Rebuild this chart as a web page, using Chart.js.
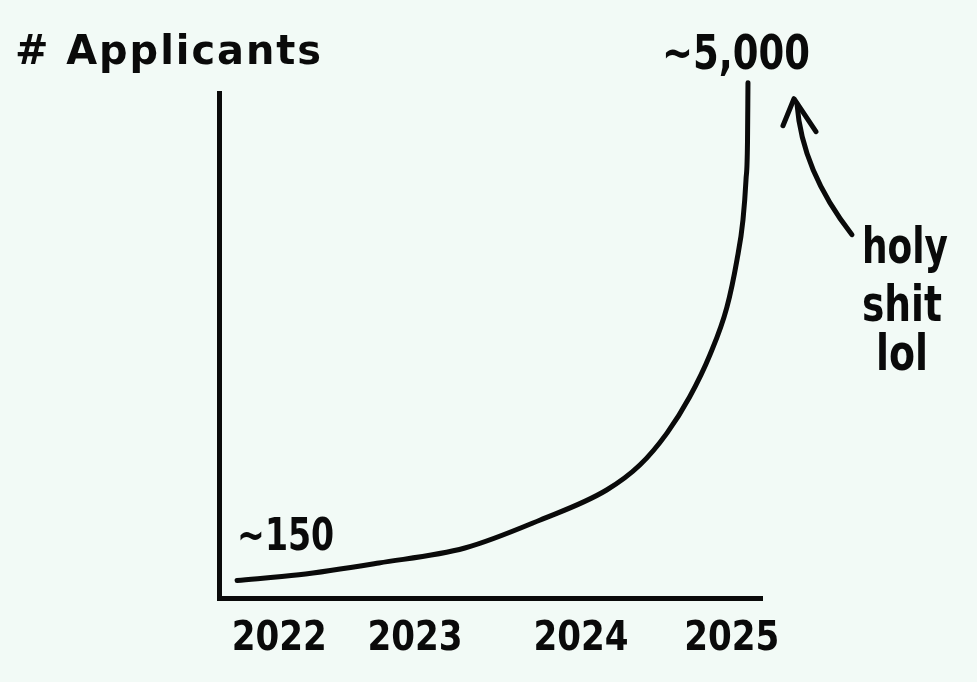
<!DOCTYPE html>
<html>
<head>
<meta charset="utf-8">
<script src="https://cdn.jsdelivr.net/npm/chart.js@4/dist/chart.umd.min.js"></script>
<style>
  html, body { margin: 0; padding: 0; background: #f2faf6; }
  #wrap { width: 977px; height: 682px; }
</style>
</head>
<body>
<div id="wrap"><canvas id="applicantsChart" width="977" height="682"></canvas></div>
<script>
// Applicants over time
const years = [2021.72, 2022.13, 2022.66, 2023.23, 2023.73, 2024.17, 2024.39, 2024.57,
               2024.72, 2024.855, 2024.967, 2025.034, 2025.074, 2025.094, 2025.104, 2025.107];
const applicants = [170, 225, 340, 485, 757, 1048, 1290, 1600,
                    1950, 2360, 2820, 3280, 3670, 4060, 4440, 5000];

// Hand-written year labels and where they sit on the x axis
const tickLabels = ['2022', '2023', '2024', '2025'];
const tickPositions = [2022, 2022.9, 2024, 2025];

const axisTitle = '# Applicants';
const startLabel = '~150';
const peakLabel = '~5,000';
const remarkLines = ['holy', 'shit', 'lol'];

const ink = '#0a0a0a';
const hand = '"DejaVu Sans", "Liberation Sans", sans-serif';

function write(ctx, text, x, y, size, maxWidth, align, spacing) {
    ctx.font = `bold ${size}px ${hand}`;
    ctx.letterSpacing = spacing || '0px';
    ctx.textAlign = align || 'left';
    ctx.textBaseline = 'alphabetic';
    ctx.fillText(text, x, y, maxWidth);
}

// Draws the hand-written texts and the arrow
const sketchNotes = {
    id: 'sketchNotes',
    afterDraw(chart) {
        const ctx = chart.ctx;
        const xs = chart.scales.x;
        const ys = chart.scales.y;
        ctx.save();
        ctx.fillStyle = ink;
        ctx.strokeStyle = ink;

        write(ctx, axisTitle, 15, 64, 41, 308, 'left', '2px');

        tickLabels.forEach((label, i) => {
            write(ctx, label, xs.getPixelForValue(tickPositions[i]), 650, 41, 95, 'center');
        });

        const startX = xs.getPixelForValue(years[0]);
        const startY = ys.getPixelForValue(applicants[0]);
        write(ctx, startLabel, startX, startY - 30, 45, 97);

        const peakX = xs.getPixelForValue(years[years.length - 1]);
        const peakY = ys.getPixelForValue(applicants[applicants.length - 1]);
        write(ctx, peakLabel, peakX - 86, peakY - 14, 48, 148);

        // arrow pointing at the peak
        const tipX = peakX + 46, tipY = peakY + 16;
        ctx.lineWidth = 5;
        ctx.lineCap = 'round';
        ctx.lineJoin = 'round';
        ctx.beginPath();
        ctx.moveTo(tipX + 58, tipY + 136);
        ctx.quadraticCurveTo(tipX + 8, tipY + 72, tipX + 3, tipY + 5);
        ctx.stroke();
        ctx.beginPath();
        ctx.moveTo(tipX - 11, tipY + 27);
        ctx.lineTo(tipX, tipY);
        ctx.lineTo(tipX + 22, tipY + 33);
        ctx.stroke();

        const remarkX = peakX + 157;
        write(ctx, remarkLines[0], remarkX, 263, 50, 86, 'center');
        write(ctx, remarkLines[1], remarkX - 3, 321, 50, 80, 'center');
        write(ctx, remarkLines[2], remarkX - 3, 370, 50, 52, 'center');

        ctx.restore();
    }
};

new Chart(document.getElementById('applicantsChart'), {
    type: 'line',
    data: {
        datasets: [{
            label: 'Applicants',
            data: years.map((x, i) => ({ x: x, y: applicants[i] })),
            borderColor: ink,
            borderWidth: 5,
            borderCapStyle: 'round',
            borderJoinStyle: 'round',
            cubicInterpolationMode: 'monotone',
            pointRadius: 0,
            fill: false,
            clip: false
        }]
    },
    options: {
        responsive: false,
        animation: false,
        events: [],
        layout: { padding: { left: 219, right: 215, top: 93, bottom: 84 } },
        plugins: {
            legend: { display: false },
            tooltip: { enabled: false }
        },
        scales: {
            x: {
                type: 'linear',
                min: 2021.6,
                max: 2025.2,
                ticks: { display: false },
                grid: { display: false, drawTicks: false },
                border: { display: true, color: ink, width: 5 }
            },
            y: {
                min: 0,
                max: 4900,
                ticks: { display: false },
                grid: { display: false, drawTicks: false },
                border: { display: true, color: ink, width: 5 }
            }
        }
    },
    plugins: [sketchNotes]
});
</script>
</body>
</html>
